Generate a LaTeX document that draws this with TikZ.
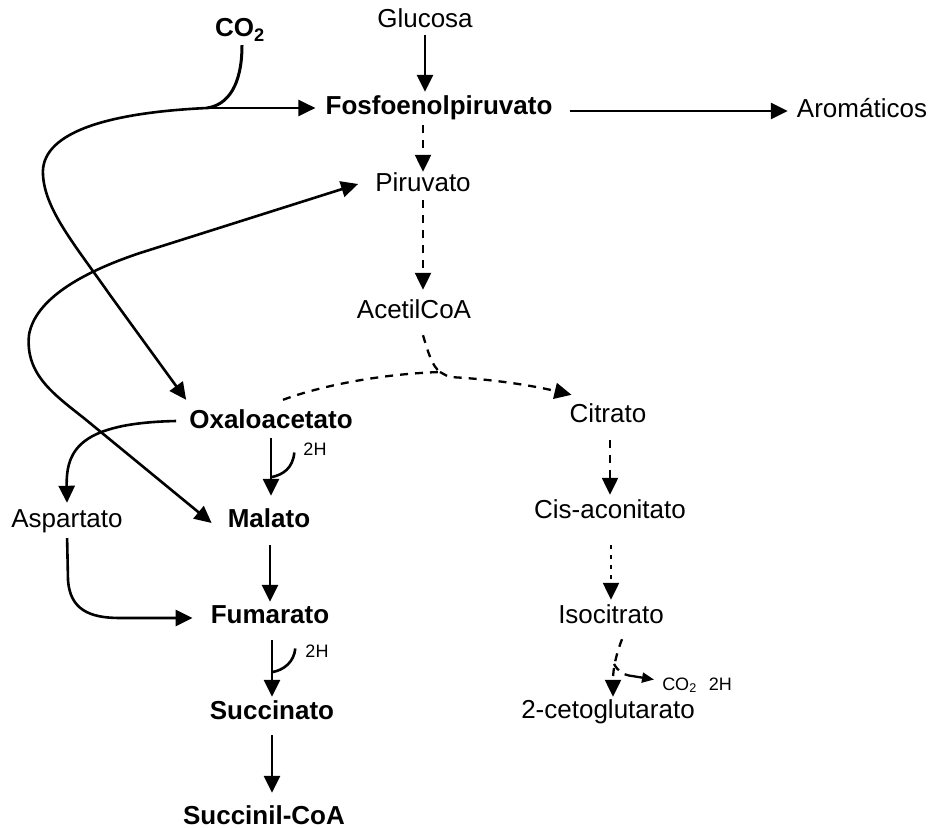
\documentclass[tikz,border=0pt]{standalone}
\usepackage{fontspec}
\setmainfont{Liberation Sans}
\usetikzlibrary{arrows.meta,calc}
\begin{document}
\begin{tikzpicture}[x=1pt,y=-1pt,
  every node/.style={inner sep=1pt, anchor=base, text height=19pt, text depth=5pt},
  met/.style={font=\fontsize{26}{30}\selectfont},
  metb/.style={font=\fontsize{26}{30}\selectfont\bfseries},
  lab/.style={font=\fontsize{18}{20}\selectfont, text height=13pt, text depth=4pt},
  headed/.style={-{Triangle[length=17pt,width=16pt]}},
  ln/.style={line width=2.6pt},
  flow/.style={ln, headed},
  dline/.style={line width=2.3pt, dash pattern=on 8pt off 7pt},
  dflow/.style={dline, headed},
  pflow/.style={line width=2.3pt, dash pattern=on 4pt off 6pt, headed},
]
\useasboundingbox (0,0) rectangle (931,829);

% metabolites
\node[metb] (co2) at (240,37) {CO\textsubscript{2}};
\node[met] (glu) at (425,28) {Glucosa};
\node[metb] (pep) at (439,115) {Fosfoenolpiruvato};
\node[met] (arom) at (862,118) {Aromáticos};
\node[met] (pir) at (423,192) {Piruvato};
\node[met] (acetil) at (414,318) {AcetilCoA};
\node[met] (cit) at (608,422) {Citrato};
\node[metb] (oaa) at (271,428) {Oxaloacetato};
\node[met] (asp) at (67,527) {Aspartato};
\node[metb] (mal) at (269,527) {Malato};
\node[met] (cis) at (610,518) {Cis-aconitato};
\node[metb] (fum) at (270,623) {Fumarato};
\node[met] (iso) at (611,623) {Isocitrato};
\node[metb] (suc) at (272,719) {Succinato};
\node[met] (ceto) at (608,718) {2-cetoglutarato};
\node[metb] (succoa) at (264,824) {Succinil-CoA};

% cofactors
\node[lab] (h1) at (315,455) {2H};
\node[lab] (h2) at (317,657) {2H};
\node[lab] (co2b) at (697,690) {CO\textsubscript{2}\hspace{12pt}2H};

% junction points
\coordinate (k) at (207,108);
\coordinate (j) at (440,372);

% CO2 fixation and the PEP / oxaloacetate loop
\draw[ln, line width=3pt] ($(co2.south)+(2,2)$) .. controls (242,85) and (228,105) .. (k);
\draw[flow, shorten >=9pt] (k) -- (k -| pep.west);
\draw[flow] (k) .. controls (100,113) and (40,135) .. (43,175)
  .. controls (45,210) and (75,245) .. (110,295) -- ($(oaa.north west)+(-2,-8)$);

% malate <-> pyruvate loop
\draw[ln, {Triangle[length=17pt,width=16pt]}-{Triangle[length=17pt,width=16pt]}]
  ($(pir.west)+(-16,-1)$) -- (140,253) .. controls (80,273) and (35,300) .. (29,335)
  .. controls (25,375) and (55,395) .. (85,419) -- ($(mal.west)+(-15,3)$);

% glycolysis
\draw[flow, shorten <=1pt, shorten >=3pt] (glu.south) -- (glu.south |- pep.north);
\draw[flow, shorten <=16pt, shorten >=8pt] (pep.east |- arom.west) -- (arom.west);
\draw[dflow, shorten <=4pt] (pir.north |- pep.south) -- (pir.north);
\draw[dflow, shorten <=2pt, shorten >=8pt] (pir.south) -- (pir.south |- acetil.north);

% citrate synthase
\draw[dline] ($(acetil.south)+(9,11)$) .. controls (428,352) and (432,366) .. (j);
\draw[dline] ($(oaa.north)+(12,-8)$) .. controls (320,386) and (380,374) .. (j);
\draw[dflow] (j) -- (449,377) .. controls (490,379) and (530,385) .. ($(cit.north west)+(3,-7)$);

% oxidative branch
\draw[dflow, shorten <=12pt, shorten >=3pt] (cis.north |- cit.south) -- (cis.north);
\draw[pflow, shorten <=21pt, shorten >=3pt] (iso.north |- cis.south) -- (iso.north);
\draw[dflow] ($(iso.south)+(11,10)$) .. controls (616,655) and (613,668) .. ($(ceto.north)+(5,-1)$);
\draw[dline] (614,664) .. controls (618,671) and (623,675) .. (632,676);
\draw[ln, line width=2.3pt, -{Triangle[length=12pt,width=10pt]}] (632,676) -- ($(co2b.west)+(-7,-6)$);

% reductive branch
\draw[flow] ($(oaa.west)+(-12,0)$) .. controls (80,423) and (66,450) .. ($(asp.north)+(0,-4)$);
\draw[flow, shorten <=4pt, shorten >=11pt] (oaa.south) -- (oaa.south |- mal.north);
\draw[ln] ($(h1.west)+(-8,2)$) .. controls (293,468) and (283,475) .. ($(oaa.south)+(0,43)$);
\draw[flow, shorten <=12pt, shorten >=1pt] (fum.north |- mal.south) -- (fum.north);
\draw[flow, shorten <=5pt] (asp.south) -- (68,580) .. controls (70,610) and (90,618) .. (120,618)
  -- ($(fum.west)+(-17,2)$);
\draw[flow, shorten <=11pt, shorten >=2pt] (suc.north |- fum.south) -- (suc.north);
\draw[ln] ($(h2.west)+(-9,-4)$) .. controls (294,662) and (284,670) .. ($(suc.north |- fum.south)+(0,43)$);
\draw[flow, shorten <=10pt, shorten >=11pt] (suc.south) -- (suc.south |- succoa.north);
\end{tikzpicture}
\end{document}
